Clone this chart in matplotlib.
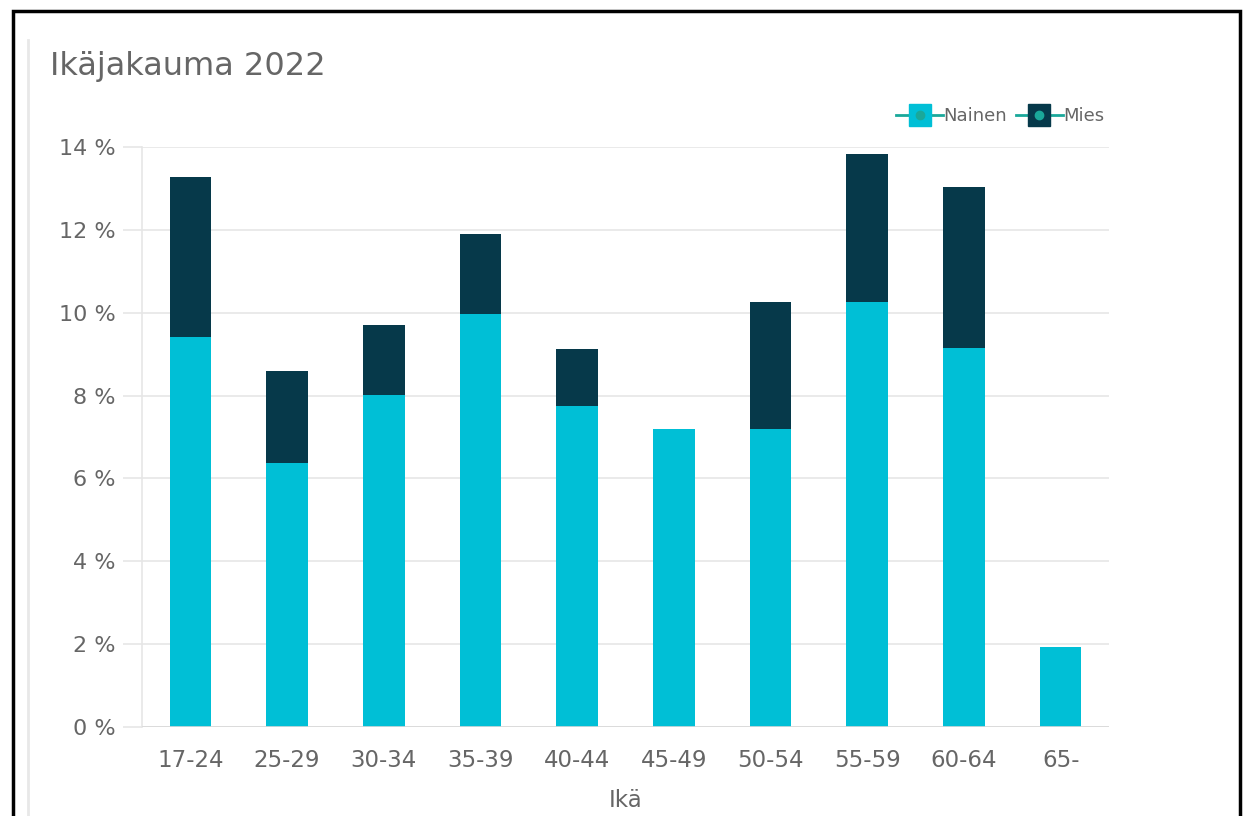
import matplotlib.pyplot as plt
import numpy as np
from matplotlib.lines import Line2D
from matplotlib.patches import Rectangle
from matplotlib.legend_handler import HandlerTuple

# Age groups and shares (%)
ages = ["17-24", "25-29", "30-34", "35-39", "40-44", "45-49", "50-54", "55-59", "60-64", "65-"]
nainen = [9.41, 6.37, 8.01, 9.97, 7.75, 7.19, 7.19, 10.26, 9.15, 1.93]
mies = [3.87, 2.22, 1.69, 1.93, 1.37, 0.0, 3.07, 3.57, 3.88, 0.0]
yticks = [0, 2, 4, 6, 8, 10, 12, 14]

c_nainen = "#00bfd6"
c_mies = "#06394a"
c_text = "#666666"
c_grid = "#e6e6e6"

fig = plt.figure(figsize=(12.45, 8.16), dpi=100)
ax = fig.add_axes([142 / 1245, 1 - 727 / 816, (1109 - 142) / 1245, (727 - 147) / 816])

x = np.arange(len(ages))
ax.bar(x, nainen, width=0.43, color=c_nainen, zorder=3)
ax.bar(x, mies, width=0.43, bottom=nainen, color=c_mies, zorder=3)

ax.set_xlim(-0.5, len(ages) - 0.5)
ax.set_ylim(0, 14)
ax.set_yticks(yticks)
ax.set_yticklabels([f"{t} %" for t in yticks])
ax.set_xticks(x)
ax.set_xticklabels(ages)
ax.grid(axis="y", color=c_grid, linewidth=1.2, zorder=0)
for s in ["top", "right", "bottom"]:
    ax.spines[s].set_visible(False)
ax.spines["left"].set_color(c_grid)
ax.spines["left"].set_linewidth(1.2)
ax.axhline(0, color="#d9d9d9", linewidth=1.2, zorder=4)
ax.tick_params(axis="y", length=14, color=c_grid, width=1.2, labelcolor=c_text, labelsize=16, pad=5)
ax.tick_params(axis="x", length=0, labelcolor=c_text, labelsize=16.5, pad=16)
ax.set_xlabel("Ikä", color=c_text, fontsize=16.5, labelpad=12)

fig.text(50 / 1245, 1 - 66 / 816, "Ikäjakauma 2022", color=c_text, fontsize=23, va="center", ha="left")

# legend: square with a line and a dot through it
def handle(c):
    sq = Line2D([], [], marker="s", markersize=16, color=c, linestyle="none")
    ln = Line2D([], [], color="#1aa89a", linewidth=2)
    dot = Line2D([], [], marker="o", markersize=6, color="#1aa89a", linestyle="none")
    return (ln, sq, dot)

leg = fig.legend([handle(c_nainen), handle(c_mies)], ["Nainen", "Mies"],
                 handler_map={tuple: HandlerTuple(ndivide=1, pad=0)},
                 loc="center right", bbox_to_anchor=(1104 / 1245, 1 - 116 / 816),
                 ncol=2, frameon=False, fontsize=13, handlelength=2.6,
                 handletextpad=0.0, columnspacing=0.5, labelcolor=c_text,
                 borderaxespad=0, borderpad=0)

# outer frame
fig.add_artist(Rectangle((13 / 1245, -0.1), (1240 - 13) / 1245, 1.1 - 11 / 816,
                         transform=fig.transFigure, fill=False, edgecolor="black", linewidth=2.5))
fig.add_artist(Line2D([28 / 1245, 28 / 1245], [0, 1 - 40 / 816], transform=fig.transFigure,
                      color="#e8e8e8", linewidth=2))

fig.savefig("out.png", dpi=100, facecolor="white")
